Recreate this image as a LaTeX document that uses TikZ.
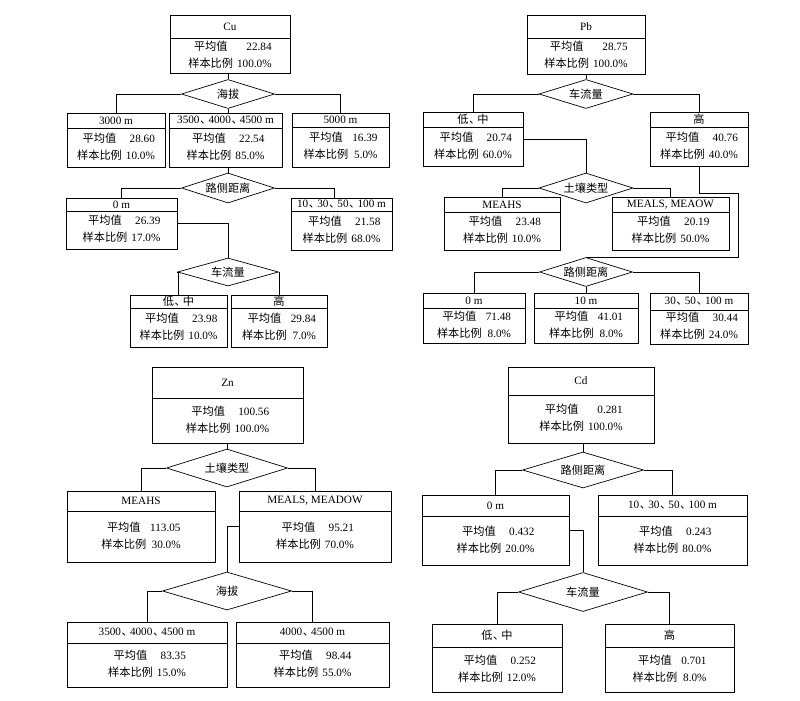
\documentclass[tikz,border=0pt]{standalone}
\usepackage{fontspec}
\setmainfont{Liberation Serif}
\newfontfamily\cjk{Noto Sans CJK SC}
\usetikzlibrary{calc}
\usetikzlibrary{shapes.geometric}

\newcommand{\zh}[1]{{\cjk #1}}
\newcommand{\dun}{\makebox[0.8em][l]{\hspace{0.05em}\zh{、}}}
\tikzset{box/.style={draw, rectangle, inner sep=0pt},
 split/.style={draw, diamond, aspect=3.2, inner sep=0pt}}
% box: name, left, top, right, bottom, header line, title, mean, share
\newcommand{\databox}[9]{%
 \node[box, minimum width=#4pt-#2pt, minimum height=#5pt-#3pt] (#1) at ({(#2+#4)/2},{(#3+#5)/2}) {};
 \draw (#2,#6) -- (#4,#6);
 \node (#1-t) at ({(#2+#4)/2},{(#3+#6)/2}) {#7};
 \node (#1-v) at ({(#2+#4)/2},{(#6+#5)/2}) {\begin{tabular}{@{}c@{\hspace{4pt}}r@{}}\zh{平均值} & #8\\ \zh{样本比例} & #9\end{tabular}};
}

\begin{document}
\begin{tikzpicture}[x=1pt, y=-1pt, line width=0.7pt, font=\fontsize{11.2}{17}\selectfont]
\useasboundingbox (0,0) rectangle (800,701);

% Cu
\databox{cu}{170}{15}{290}{73}{38}{Cu}{22.84}{100.0\%}
\node[split, minimum width=93pt, minimum height=29pt] (cu-d1) at (228,94) {\zh{海拔}};
\databox{cu1}{67}{113}{165}{167}{128}{3000 m}{28.60}{10.0\%}
\databox{cu2}{169}{113}{282}{167}{128}{3500\dun 4000\dun 4500 m}{22.54}{85.0\%}
\databox{cu3}{292}{113}{389}{167}{127}{5000 m}{16.39}{5.0\%}
\node[split, minimum width=93pt, minimum height=30pt] (cu-d2) at (228,188) {\zh{路侧距离}};
\databox{cu21}{66}{198}{177}{249}{211}{0 m}{26.39}{17.0\%}
\databox{cu22}{291}{198}{392}{250}{211}{10\dun 30\dun 50\dun 100 m}{21.58}{68.0\%}
\node[split, minimum width=101pt, minimum height=28pt] (cu-d3) at (228,272) {\zh{车流量}};
\databox{cu211}{130}{295}{227}{347}{308}{\zh{低}\dun\zh{中}}{23.98}{10.0\%}
\databox{cu212}{231}{295}{327}{347}{308}{\zh{高}}{29.84}{7.0\%}

\draw (cu-d1.north) -- (cu-d1.north |- cu.south);
\draw (cu-d1.west) -| (cu1.north);
\draw (cu-d1.east) -| (cu3.north);
\draw (cu-d1.south) -- (cu-d1.south |- cu2.north);
\draw (cu-d2.north) -- (cu-d2.north |- cu2.south);
\draw (cu-d2.west) -| (cu21.north);
\draw (cu-d2.east) -| ([xshift=-7pt]cu22.north);
\draw (cu21.east) -| (cu-d3.north);
\draw (cu-d3.west) -| (cu211.north);
\draw (cu-d3.east) -| (cu212.north);

% Pb
\databox{pb}{527}{15}{645}{74}{38}{Pb}{28.75}{100.0\%}
\node[split, minimum width=94pt, minimum height=29pt] (pb-d1) at (586,94) {\zh{车流量}};
\databox{pb1}{423}{112}{523}{166}{127}{\zh{低}\dun\zh{中}}{20.74}{60.0\%}
\databox{pb2}{650}{112}{748}{166}{127}{\zh{高}}{40.76}{40.0\%}
\node[split, minimum width=94pt, minimum height=30pt] (pb-d2) at (586,188) {\zh{土壤类型}};
\databox{pb11}{444}{197}{560}{250}{212}{MEAHS}{23.48}{10.0\%}
\databox{pb12}{612}{197}{729}{250}{212}{MEALS, MEAOW}{20.19}{50.0\%}
\node[split, minimum width=93pt, minimum height=29pt] (pb-d3) at (586,272) {\zh{路侧距离}};
\databox{pb21}{423}{293}{525}{343}{308}{0 m}{71.48}{8.0\%}
\databox{pb22}{534}{293}{638}{343}{308}{10 m}{41.01}{8.0\%}
\databox{pb23}{650}{293}{748}{344}{310}{30\dun 50\dun 100 m}{30.44}{24.0\%}
\coordinate (pb-bend) at (738,193);

\draw (pb-d1.north) -- (pb-d1.north |- pb.south);
\draw (pb-d1.west) -| (pb1.north);
\draw (pb-d1.east) -| (pb2.north);
\draw (pb1.east) -| (pb-d2.north);
\draw (pb-d2.west) -| (pb11.north);
\draw (pb-d2.east) -| (pb12.north);
\draw (pb2.south) |- (pb-bend) |- (pb-d3.north);
\draw (pb-d3.west) -| (pb21.north);
\draw (pb-d3.south) -- (pb-d3.south |- pb22.north);
\draw (pb-d3.east) -| (pb23.north);

% Zn
\databox{zn}{152}{367}{303}{443}{398}{Zn}{100.56}{100.0\%}
\node[split, minimum width=121pt, minimum height=38pt] (zn-d1) at (227,468) {\zh{土壤类型}};
\databox{zn1}{67}{491}{215}{562}{511}{MEAHS}{113.05}{30.0\%}
\databox{zn2}{239}{491}{391}{562}{511}{MEALS, MEADOW}{95.21}{70.0\%}
\node[split, minimum width=129pt, minimum height=38pt] (zn-d2) at (227,591) {\zh{海拔}};
\databox{zn21}{67}{622}{227}{687}{643}{3500\dun 4000\dun 4500 m}{83.35}{15.0\%}
\databox{zn22}{236}{622}{389}{687}{643}{4000\dun 4500 m}{98.44}{55.0\%}

\draw (zn-d1.north) -- (zn-d1.north |- zn.south);
\draw (zn-d1.west) -| (zn1.north);
\draw (zn-d1.east) -| (zn2.north);
\draw (zn2.west) -| (zn-d2.north);
\draw (zn-d2.west) -| (zn21.north);
\draw (zn-d2.east) -| (zn22.north);

% Cd
\databox{cd}{508}{367}{654}{443}{395}{Cd}{0.281}{100.0\%}
\node[split, minimum width=121pt, minimum height=36pt] (cd-d1) at (583,470) {\zh{路侧距离}};
\databox{cd1}{422}{495}{569}{565}{516}{0 m}{0.432}{20.0\%}
\databox{cd2}{598}{495}{747}{565}{516}{10\dun 30\dun 50\dun 100 m}{0.243}{80.0\%}
\node[split, minimum width=129pt, minimum height=39pt] (cd-d2) at (583,592) {\zh{车流量}};
\databox{cd11}{432}{624}{562}{692}{647}{\zh{低}\dun\zh{中}}{0.252}{12.0\%}
\databox{cd12}{605}{624}{734}{692}{647}{\zh{高}}{0.701}{8.0\%}

\draw (cd-d1.north) -- (cd-d1.north |- cd.south);
\draw (cd-d1.west) -| (cd1.north);
\draw (cd-d1.east) -| (cd2.north);
\draw (cd1.east) -| (cd-d2.north);
\draw (cd-d2.west) -| (cd11.north);
\draw (cd-d2.east) -| (cd12.north);
\end{tikzpicture}
\end{document}
